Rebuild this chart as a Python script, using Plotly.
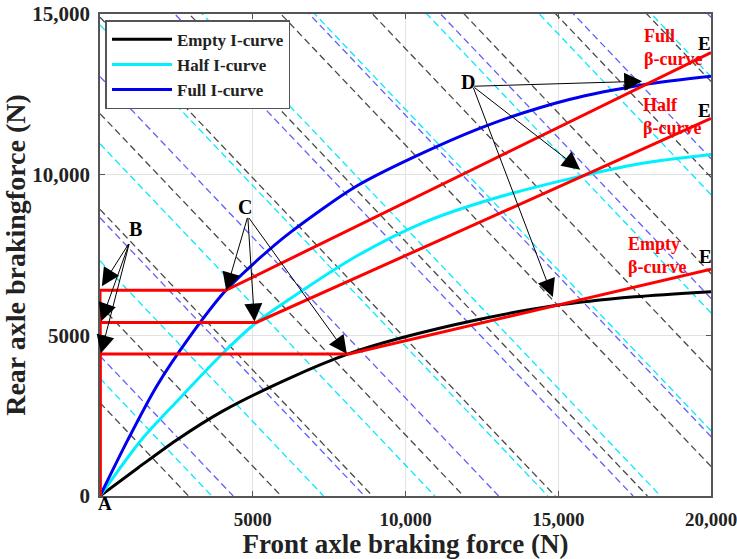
import plotly.graph_objects as go

# ---------------- data ----------------
empty_I_x = [0, 1250, 2510, 4030, 6210, 8150, 9810, 12320, 14850, 17500, 20000]
empty_I_y = [0, 880, 1745, 2650, 3670, 4430, 4910, 5480, 5920, 6200, 6360]

half_I_x = [0, 1350, 2560, 4030, 5120, 6210, 8390, 10570, 12750, 15360, 17700, 20000]
half_I_y = [0, 1745, 2990, 4450, 5400, 6130, 7460, 8500, 9220, 9870, 10350, 10630]

full_I_x = [0, 910, 1850, 2940, 4120, 5340, 6210, 8390, 10570, 12750, 15360, 17800, 20000]
full_I_y = [0, 1745, 3410, 4960, 6400, 7500, 8190, 9640, 10680, 11560, 12340, 12800, 13060]

empty_beta_x = [0, 0, 8150, 20000]
empty_beta_y = [0, 4420, 4420, 7060]
half_beta_x = [0, 0, 5120, 20000]
half_beta_y = [0, 5400, 5400, 11750]
full_beta_x = [0, 0, 4120, 20000]
full_beta_y = [0, 6400, 6400, 13800]

# equal-deceleration lines: F1 + F2 = S
black_S = [2900, 5930, 8920, 11900, 14900, 17920, 20920, 23920, 26920, 29920, 32900]
cyan_S = [3660, 7320, 10960, 14660, 18350, 22030, 25700, 29380, 33050]
blue_S = [4360, 8660, 13050, 17450, 21850, 26150, 30500, 34900]

x_ticks = [0, 5000, 10000, 15000, 20000]
x_ticktext = ["", "5000", "10,000", "15,000", "20,000"]
y_ticks = [0, 5000, 10000, 15000]
y_ticktext = ["0", "5000", "10,000", "15,000"]

FONT = "Liberation Serif"

fig = go.Figure()


def dashed(S_list, color):
    xs, ys = [], []
    for s in S_list:
        xs += [0, s, None]
        ys += [s, 0, None]
    fig.add_trace(go.Scatter(x=xs, y=ys, mode="lines", showlegend=False,
                             hoverinfo="skip",
                             line=dict(color=color, width=1.3, dash="7px,4px")))


dashed(black_S, "rgba(40,40,40,0.85)")
dashed(cyan_S, "rgb(0,235,255)")
dashed(blue_S, "rgba(40,40,255,0.75)")

fig.add_trace(go.Scatter(x=empty_I_x, y=empty_I_y, mode="lines", name="Empty I-curve",
                         line=dict(color="black", width=3, shape="spline", smoothing=0.8)))
fig.add_trace(go.Scatter(x=half_I_x, y=half_I_y, mode="lines", name="Half I-curve",
                         line=dict(color="#00f0ff", width=3, shape="spline", smoothing=0.8)))
fig.add_trace(go.Scatter(x=full_I_x, y=full_I_y, mode="lines", name="Full I-curve",
                         line=dict(color="#0000ee", width=3, shape="spline", smoothing=0.8)))

for bx, by in [(empty_beta_x, empty_beta_y), (half_beta_x, half_beta_y), (full_beta_x, full_beta_y)]:
    fig.add_trace(go.Scatter(x=bx, y=by, mode="lines", showlegend=False, hoverinfo="skip",
                             line=dict(color="#ff0000", width=3)))

ann = []


def label(x, y, text, color="black", size=19, xanchor="center", align="center",
          xref="x", yref="y"):
    ann.append(dict(x=x, y=y, xref=xref, yref=yref, text=text, showarrow=False,
                    xanchor=xanchor, yanchor="middle", align=align,
                    font=dict(family=FONT, size=size, color=color, weight="bold")))


def arrow(x0, y0, x1, y1):
    ann.append(dict(x=x1, y=y1, ax=x0, ay=y0, xref="x", yref="y", axref="x", ayref="y",
                    text="", showarrow=True, arrowhead=2, arrowsize=3.6, arrowwidth=1,
                    arrowcolor="black", standoff=0, startstandoff=0))


# red beta-curve labels
label(17740, 13960, "Full<br>β-curve", color="#ff0000", size=18, xanchor="left", align="left")
label(17700, 11800, "Half<br>β-curve", color="#ff0000", size=18, xanchor="left", align="left")
label(17230, 7500, "Empty<br>β-curve", color="#ff0000", size=18, xanchor="left", align="left")
# E labels
label(19800, 14080, "E")
label(19800, 12000, "E")
label(19830, 7440, "E")
label(0.0075, -0.016, "A", xref="paper", yref="paper")
label(1170, 8300, "B", size=20)
label(4730, 9000, "C", size=20)
label(12040, 12880, "D", size=20)

# arrows B
for tx, ty in [(60, 6530), (40, 5440), (30, 4440)]:
    arrow(966, 7890, tx, ty)
# arrows C
for tx, ty in [(4131, 6396), (5057, 5430), (8079, 4424)]:
    arrow(4838, 8700, tx, ty)
# arrows D
for tx, ty in [(17748, 12907), (15718, 10156), (14822, 6190)]:
    arrow(12203, 12751, tx, ty)

axis_common = dict(showline=True, linecolor="#555555", linewidth=1.5, mirror="ticks",
                   ticks="inside", ticklen=5, tickcolor="#555555", tickwidth=1,
                   showgrid=True, gridcolor="#e2e2e2", gridwidth=1, zeroline=False,
                   automargin=False, ticklabeloverflow="allow")

fig.update_layout(
    width=737, height=559,
    margin=dict(l=100, r=26, t=14, b=63),
    paper_bgcolor="white", plot_bgcolor="white",
    font=dict(family=FONT, weight="bold"),
    xaxis=dict(range=[0, 20000], tickvals=x_ticks, ticktext=x_ticktext,
               title=dict(text="Front axle braking force (N)", standoff=0,
                          font=dict(family=FONT, size=27, color="#222", weight="bold")),
               ticklabelstandoff=5,
               tickfont=dict(family=FONT, size=19, color="#222", weight="bold"),
               **axis_common),
    yaxis=dict(range=[0, 15000], tickvals=y_ticks, ticktext=y_ticktext,
               title=dict(text="Rear axle brakingforce (N)", standoff=4,
                          font=dict(family=FONT, size=28, color="#222", weight="bold")),
               ticklabelstandoff=4,
               tickfont=dict(family=FONT, size=21, color="#222", weight="bold"),
               **axis_common),
    legend=dict(x=0.009, y=0.987, xanchor="left", yanchor="top",
                bgcolor="white", bordercolor="#555555", borderwidth=1.5,
                itemwidth=60, tracegroupgap=0,
                font=dict(family=FONT, size=17, color="#222", weight="bold")),
    annotations=ann,
    showlegend=True,
)

fig.write_html("out.html")
